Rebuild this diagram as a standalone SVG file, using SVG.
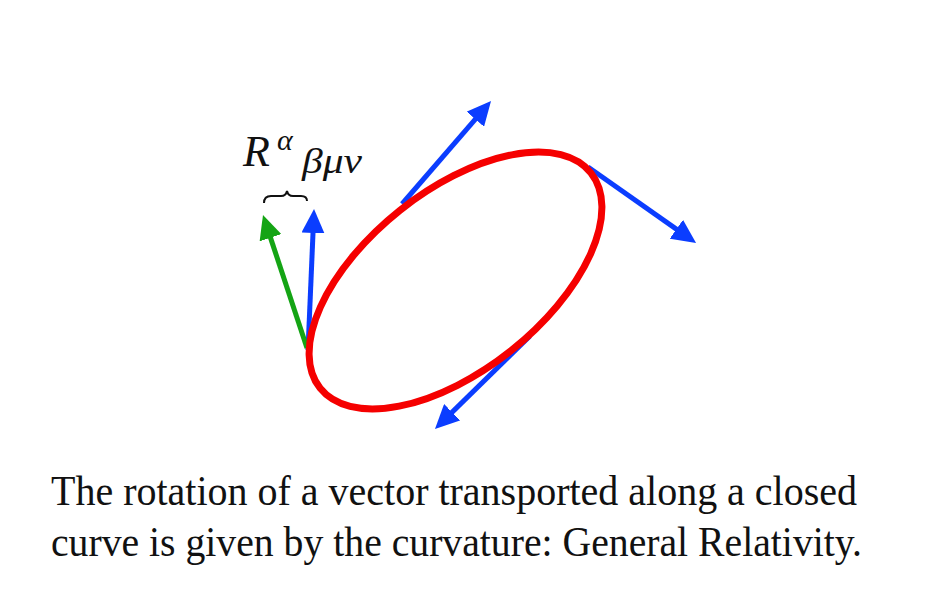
<svg xmlns="http://www.w3.org/2000/svg" width="944" height="615" viewBox="0 0 944 615">
  <style>
    .vec { stroke-width: 5; fill: none; stroke-linecap: butt; }
    .blue { stroke: #0b3dff; }
    .green { stroke: #14a414; }
    .math { font-family: "Liberation Serif", "DejaVu Serif", serif; font-style: italic; fill: #111; }
    .caption { font-family: "Liberation Serif", "DejaVu Serif", serif; font-size: 42px; fill: #111; }
  </style>
  <defs>
    <marker id="headBlue" markerUnits="userSpaceOnUse" viewBox="0 0 24 23" markerWidth="24" markerHeight="23" refX="16" refY="11.5" orient="auto">
      <path d="M0,0 L24,11.5 L0,23 Z" fill="#0b3dff"/>
    </marker>
    <marker id="headGreen" markerUnits="userSpaceOnUse" viewBox="0 0 24 23" markerWidth="24" markerHeight="23" refX="16" refY="11.5" orient="auto">
      <path d="M0,0 L24,11.5 L0,23 Z" fill="#14a414"/>
    </marker>
  </defs>
  <rect x="0" y="0" width="944" height="615" fill="#ffffff"/>

  <g id="connectors">
    <line id="vec-top" class="vec blue" x1="402" y1="204" x2="485.8" y2="107.1" marker-end="url(#headBlue)"/>
    <line id="vec-right" class="vec blue" x1="588" y1="167" x2="689.5" y2="238.4" marker-end="url(#headBlue)"/>
    <line id="vec-bottom" class="vec blue" x1="530" y1="336" x2="440.7" y2="423.4" marker-end="url(#headBlue)"/>
    <line id="vec-start" class="vec blue" x1="308" y1="350" x2="313.7" y2="217" marker-end="url(#headBlue)"/>
    <line id="vec-rotated" class="vec green" x1="307" y1="348" x2="265.5" y2="222.6" marker-end="url(#headGreen)"/>
  </g>

  <g id="loop">
    <ellipse cx="455.5" cy="280.5" rx="173" ry="89.5" transform="rotate(-38.5 455.5 280.5)" fill="none" stroke="#f50000" stroke-width="7"/>
  </g>

  <g id="riemann-label">
    <text class="math" x="243" y="166" font-size="44">R</text>
    <text class="math" x="277" y="150" font-size="30">α</text>
    <text class="math" x="302" y="173" font-size="35" textLength="60" lengthAdjust="spacingAndGlyphs">βμν</text>
    <path d="M264,203 Q264,196 271,196 L281,196 Q286,196 287,191 Q288,196 293,196 L301,196 Q307,196 307,201" fill="none" stroke="#111" stroke-width="2"/>
  </g>

  <g id="caption">
    <text class="caption" x="51" y="505" textLength="806" lengthAdjust="spacingAndGlyphs">The rotation of a vector transported along a closed</text>
    <text class="caption" x="51" y="556" textLength="811" lengthAdjust="spacingAndGlyphs">curve is given by the curvature: General Relativity.</text>
  </g>
</svg>
